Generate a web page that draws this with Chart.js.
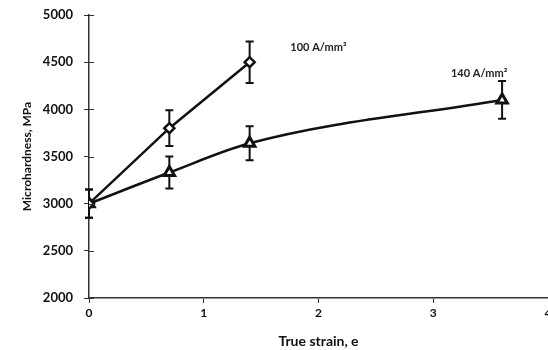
<!DOCTYPE html>
<html>
<head>
<meta charset="utf-8">
<script src="https://cdn.jsdelivr.net/npm/chart.js@4/dist/chart.umd.min.js"></script>
<style>
    html, body { margin: 0; padding: 0; background: #fff; overflow: hidden; }
    #wrap { width: 548px; height: 350px; overflow: hidden; }
</style>
</head>
<body>
<div id="wrap"><canvas id="hardnessChart" width="557" height="350"></canvas></div>
<script>
// du lieu doc tu hinh
const strain100 = [0, 0.7, 1.4];
const hardness100 = [3000, 3800, 4500];
const error100 = [150, 190, 220];

const strain140 = [0, 0.7, 1.4, 3.6];
const hardness140 = [3000, 3330, 3640, 4100];
const error140 = [150, 170, 180, 200];

const yTicks = [2000, 2500, 3000, 3500, 4000, 4500, 5000];
const xTicks = [0, 1, 2, 3, 4];

const seriesLabels = ['100 A/mm²', '140 A/mm²'];
const labelX = [2.0, 3.4];
const labelY = [4660, 4385];

const fontName = 'Lato, "Open Sans", sans-serif';
const ink = '#111';

const toPoints = (xs, ys) => xs.map((x, i) => ({ x: x, y: ys[i] }));

// ve thanh sai so truoc khi ve duong va diem
const errorBarPlugin = {
    id: 'errorBars',
    beforeDatasetsDraw(chart) {
        const ctx = chart.ctx;
        const xScale = chart.scales.x;
        const yScale = chart.scales.y;
        const errors = [error100, error140];
        ctx.save();
        ctx.strokeStyle = ink;
        ctx.lineWidth = 2;
        chart.data.datasets.forEach((ds, di) => {
            ds.data.forEach((p, i) => {
                const px = xScale.getPixelForValue(p.x);
                const top = yScale.getPixelForValue(p.y + errors[di][i]);
                const bottom = yScale.getPixelForValue(p.y - errors[di][i]);
                ctx.beginPath();
                ctx.moveTo(px, top);
                ctx.lineTo(px, bottom);
                ctx.moveTo(px - 4, top);
                ctx.lineTo(px + 4, top);
                ctx.moveTo(px - 4, bottom);
                ctx.lineTo(px + 4, bottom);
                ctx.stroke();
            });
        });
        ctx.restore();
    },
    afterDraw(chart) {
        const ctx = chart.ctx;
        const xScale = chart.scales.x;
        const yScale = chart.scales.y;
        ctx.save();
        // vach chia phia trong truc y
        ctx.strokeStyle = '#333';
        ctx.lineWidth = 1;
        const ax = xScale.left;
        yTicks.forEach(v => {
            const py = Math.round(yScale.getPixelForValue(v)) + 0.5;
            ctx.beginPath();
            ctx.moveTo(ax, py);
            ctx.lineTo(ax + 5, py);
            ctx.stroke();
        });
        // nhan cua tung duong
        ctx.fillStyle = '#222';
        ctx.font = 'bold 11px ' + fontName;
        ctx.textAlign = 'center';
        ctx.textBaseline = 'middle';
        seriesLabels.forEach((txt, i) => {
            ctx.fillText(txt, xScale.getPixelForValue(labelX[i]), yScale.getPixelForValue(labelY[i]));
        });
        ctx.restore();
    }
};

const ctx = document.getElementById('hardnessChart').getContext('2d');

const config = {
    type: 'scatter',
    data: {
        datasets: [
            {
                label: seriesLabels[0],
                data: toPoints(strain100, hardness100),
                showLine: true,
                borderColor: ink,
                borderWidth: 2.5,
                pointStyle: 'rectRot',
                pointRadius: 5,
                pointBorderWidth: 2.5,
                pointBackgroundColor: '#fff',
                pointBorderColor: ink,
                tension: 0
            },
            {
                label: seriesLabels[1],
                data: toPoints(strain140, hardness140),
                showLine: true,
                borderColor: ink,
                borderWidth: 2.5,
                pointStyle: 'triangle',
                pointRadius: 6,
                pointBorderWidth: 3,
                pointBackgroundColor: '#fff',
                pointBorderColor: ink,
                cubicInterpolationMode: 'monotone'
            }
        ]
    },
    options: {
        responsive: false,
        animation: false,
        devicePixelRatio: 1,
        layout: { padding: { top: 15, right: 0, left: 0, bottom: 0 } },
        plugins: {
            legend: { display: false },
            tooltip: { enabled: false }
        },
        scales: {
            x: {
                type: 'linear',
                min: 0,
                max: 4,
                afterBuildTicks: (scale) => { scale.ticks = xTicks.map(v => ({ value: v })); },
                afterFit: (scale) => { scale.height = 52; scale.paddingRight = 0; scale.paddingLeft = 0; },
                border: { display: true, color: '#333', width: 1.5 },
                grid: { drawOnChartArea: false, drawTicks: true, tickLength: 5, color: '#333' },
                ticks: {
                    color: '#111',
                    padding: 3,
                    callback: (v) => String(v),
                    font: { family: fontName, size: 12, weight: 'bold' }
                },
                title: {
                    display: true,
                    text: 'True strain, e',
                    color: '#111',
                    padding: { top: 3, bottom: 0 },
                    font: { family: fontName, size: 14, weight: 'bold' }
                }
            },
            y: {
                min: 2000,
                max: 5000,
                afterBuildTicks: (scale) => { scale.ticks = yTicks.map(v => ({ value: v })); },
                afterFit: (scale) => { scale.width = 89; scale.paddingTop = 0; scale.paddingBottom = 0; },
                border: { display: true, color: '#333', width: 1.5 },
                grid: { drawOnChartArea: false, drawTicks: true, tickLength: 5, color: '#333' },
                ticks: {
                    color: '#111',
                    padding: 11,
                    callback: (v) => String(v),
                    font: { family: fontName, size: 13, weight: 'bold' }
                },
                title: {
                    display: true,
                    text: 'Microhardness, MPa',
                    color: '#111',
                    padding: { top: 20, bottom: 4 },
                    font: { family: fontName, size: 12, weight: 'bold' }
                }
            }
        }
    },
    plugins: [errorBarPlugin]
};

const hardnessChart = new Chart(ctx, config);
</script>
</body>
</html>
